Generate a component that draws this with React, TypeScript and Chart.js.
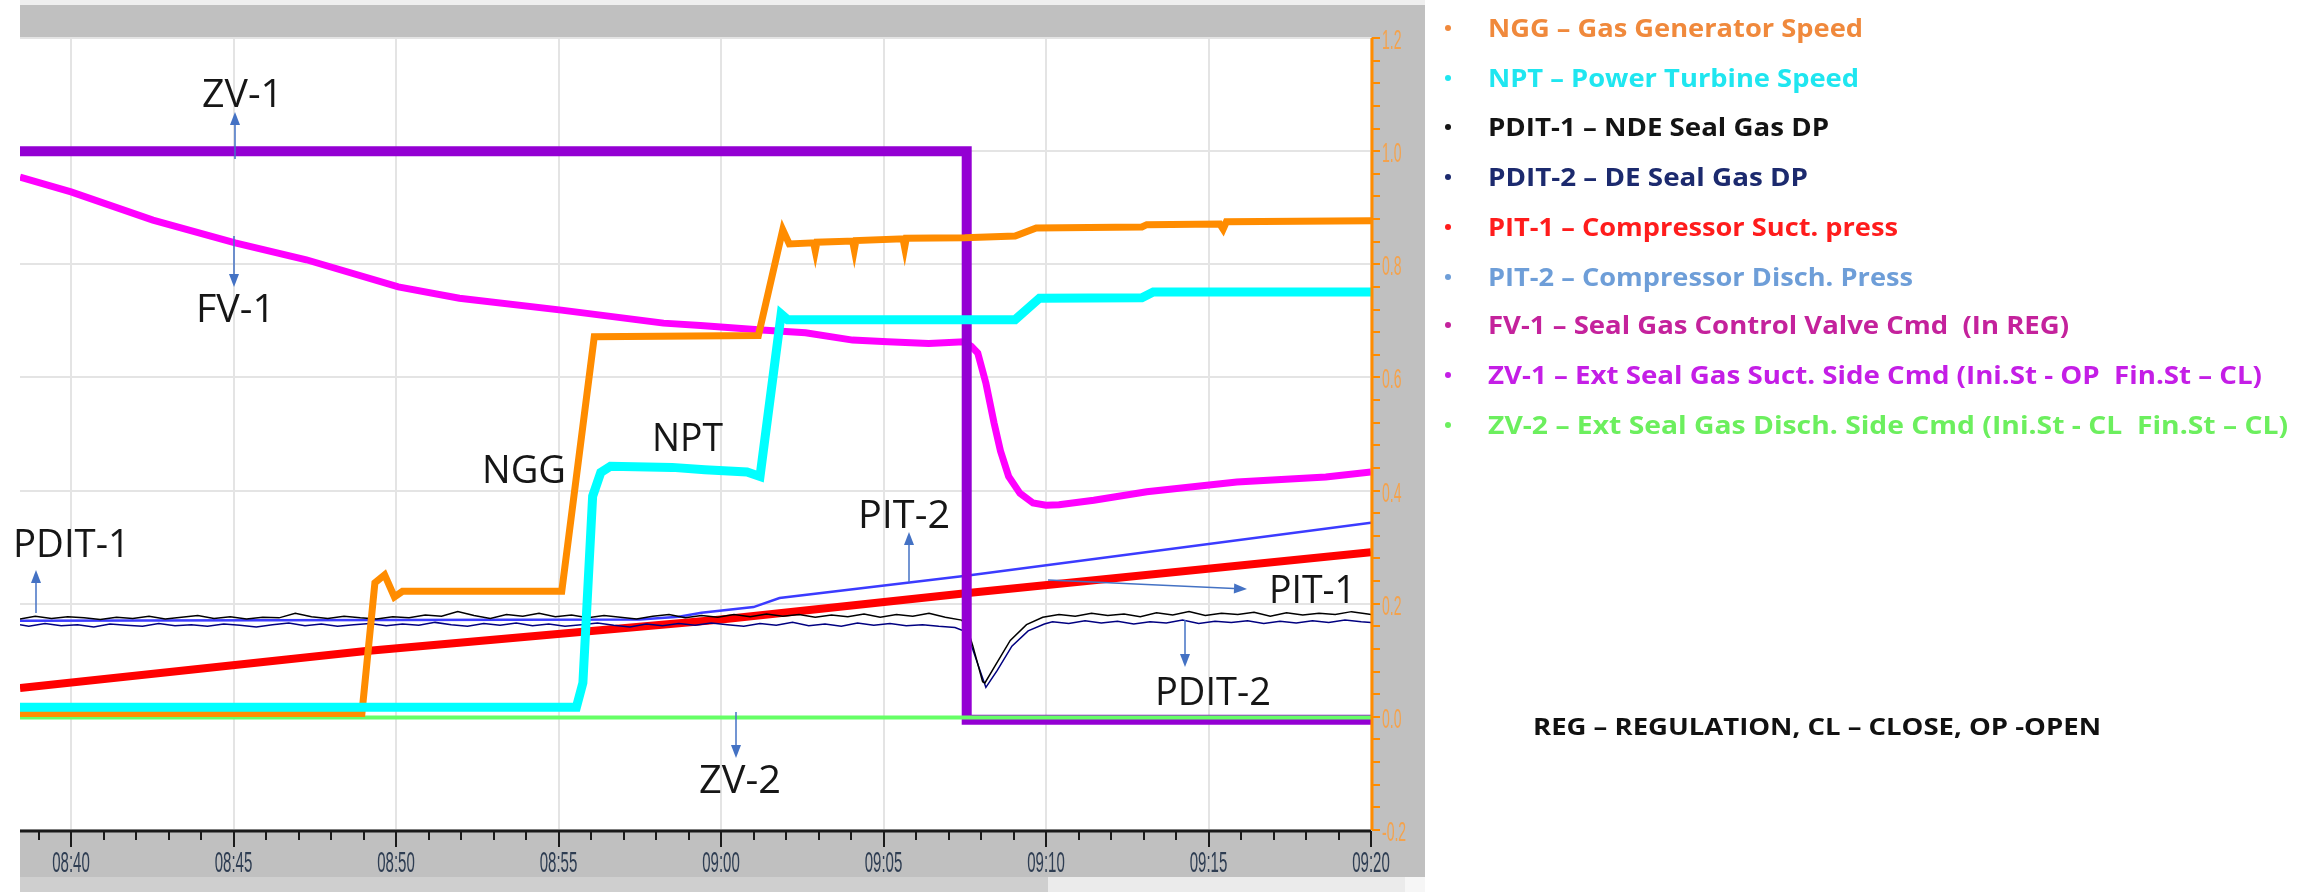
import React, { useEffect, useRef } from 'react';
import { Chart, registerables } from 'chart.js';

Chart.register(...registerables);

const W = 2309;
const H = 892;

// x = minutes after 08:00
const X_MIN = 38.43;
const X_MAX = 80;
const X_TICK_VALUES = [40, 45, 50, 55, 60, 65, 70, 75, 80];
const X_TICK_LABELS = ['08:40', '08:45', '08:50', '08:55', '09:00', '09:05', '09:10', '09:15', '09:20'];
const Y_TICK_VALUES = [-0.2, 0, 0.2, 0.4, 0.6, 0.8, 1.0, 1.2];
const Y_TICK_LABELS = ['-0.2', '0.0', '0.2', '0.4', '0.6', '0.8', '1.0', '1.2'];

const NGG: [number, number][] = [
  [38.43, 0.006], [48.95, 0.006], [49.35, 0.237], [49.65, 0.251], [49.95, 0.212], [50.2, 0.222],
  [55.1, 0.222], [56.1, 0.672], [61.15, 0.674], [61.9, 0.861], [62.1, 0.836], [62.85, 0.838],
  [62.9, 0.824], [62.95, 0.839], [64.05, 0.841], [64.1, 0.826], [64.15, 0.842], [65.6, 0.845],
  [65.65, 0.83], [65.7, 0.846], [67.5, 0.847], [69.05, 0.85], [69.7, 0.864], [72.95, 0.866],
  [73.1, 0.87], [75.35, 0.871], [75.45, 0.862], [75.55, 0.875], [80, 0.877],
];

const NPT: [number, number][] = [
  [38.43, 0.017], [55.55, 0.017], [55.75, 0.06], [56.05, 0.39], [56.3, 0.432], [56.6, 0.443],
  [58.5, 0.441], [59.5, 0.437], [60.8, 0.433], [61.2, 0.425], [61.85, 0.712], [62.05, 0.702],
  [69.05, 0.702], [69.8, 0.74], [72.95, 0.741], [73.3, 0.751], [80, 0.751],
];

const FV1: [number, number][] = [
  [38.43, 0.954], [40.0, 0.928], [42.52, 0.878], [45.05, 0.838], [47.24, 0.808], [50.07, 0.76],
  [51.95, 0.74], [55.09, 0.719], [58.23, 0.696], [59.37, 0.692], [61.25, 0.684], [62.6, 0.679],
  [64.05, 0.666], [65.13, 0.663], [66.39, 0.66], [67.47, 0.663], [67.7, 0.655], [67.9, 0.643],
  [68.15, 0.59], [68.4, 0.52], [68.6, 0.47], [68.85, 0.425], [69.2, 0.395], [69.6, 0.378],
  [70.0, 0.374], [70.4, 0.375], [71.47, 0.383], [73.1, 0.398], [75.87, 0.415], [78.61, 0.424],
  [80, 0.433],
];

const ZV1: [number, number][] = [[38.43, 1.0], [67.56, 1.0], [67.56, -0.005], [80, -0.005]];
const ZV2: [number, number][] = [[38.43, -0.001], [80, -0.001]];

const PIT1: [number, number][] = [[38.43, 0.051], [49.0, 0.116], [60.0, 0.172], [67.6, 0.219], [80, 0.291]];
const PIT2: [number, number][] = [
  [38.43, 0.17], [57.5, 0.172], [58.7, 0.177], [59.4, 0.184], [61.0, 0.194], [61.8, 0.21], [67.6, 0.25], [80, 0.343],
];

const PDIT1: [number, number][] = [
  [38.43, 0.173], [38.9, 0.178], [39.4, 0.174], [39.9, 0.177], [40.4, 0.175], [40.9, 0.172],
  [41.4, 0.176], [41.9, 0.174], [42.4, 0.178], [42.9, 0.173], [43.4, 0.176], [43.9, 0.179],
  [44.4, 0.174], [44.9, 0.177], [45.4, 0.173], [45.9, 0.176], [46.4, 0.175], [46.9, 0.183],
  [47.4, 0.177], [47.9, 0.174], [48.4, 0.178], [48.9, 0.175], [49.4, 0.173], [49.9, 0.177],
  [50.4, 0.175], [50.9, 0.18], [51.4, 0.178], [51.9, 0.186], [52.4, 0.179], [52.9, 0.174],
  [53.4, 0.181], [53.9, 0.178], [54.4, 0.183], [54.9, 0.177], [55.4, 0.18], [55.9, 0.175],
  [56.4, 0.179], [56.9, 0.176], [57.4, 0.173], [57.9, 0.178], [58.4, 0.181], [58.9, 0.175],
  [59.4, 0.179], [59.9, 0.176], [60.4, 0.181], [60.9, 0.177], [61.4, 0.182], [61.9, 0.178],
  [62.4, 0.181], [62.9, 0.176], [63.4, 0.18], [63.9, 0.177], [64.4, 0.182], [64.9, 0.176],
  [65.4, 0.181], [65.9, 0.178], [66.4, 0.183], [66.9, 0.176], [67.4, 0.171],
  [67.56, 0.16], [67.75, 0.125], [68.05, 0.062], [68.12, 0.06], [68.45, 0.092], [68.9, 0.135],
  [69.4, 0.163], [69.9, 0.176],
  [70.4, 0.181], [70.9, 0.178], [71.4, 0.183], [71.9, 0.179], [72.4, 0.182], [72.9, 0.177],
  [73.4, 0.184], [73.9, 0.18], [74.4, 0.186], [74.9, 0.179], [75.4, 0.183], [75.9, 0.181],
  [76.4, 0.185], [76.9, 0.178], [77.4, 0.184], [77.9, 0.18], [78.4, 0.183], [78.9, 0.181],
  [79.4, 0.186], [79.9, 0.182], [80, 0.181],
];

const PDIT2: [number, number][] = [
  [38.43, 0.163], [38.7, 0.16], [39.2, 0.165], [39.7, 0.161], [40.2, 0.163], [40.7, 0.159],
  [41.2, 0.164], [41.7, 0.162], [42.2, 0.16], [42.7, 0.165], [43.2, 0.161], [43.7, 0.163],
  [44.2, 0.16], [44.7, 0.164], [45.2, 0.162], [45.7, 0.159], [46.2, 0.163], [46.7, 0.166],
  [47.2, 0.161], [47.7, 0.164], [48.2, 0.16], [48.7, 0.163], [49.2, 0.165], [49.7, 0.161],
  [50.2, 0.164], [50.7, 0.162], [51.2, 0.167], [51.7, 0.163], [52.2, 0.16], [52.7, 0.165],
  [53.2, 0.162], [53.7, 0.166], [54.2, 0.161], [54.7, 0.164], [55.2, 0.16], [55.7, 0.163],
  [56.2, 0.166], [56.7, 0.162], [57.2, 0.159], [57.7, 0.164], [58.2, 0.161], [58.7, 0.165],
  [59.2, 0.162], [59.7, 0.166], [60.2, 0.163], [60.7, 0.16], [61.2, 0.165], [61.7, 0.162],
  [62.2, 0.167], [62.7, 0.161], [63.2, 0.164], [63.7, 0.16], [64.2, 0.166], [64.7, 0.162],
  [65.2, 0.165], [65.7, 0.161], [66.2, 0.163], [66.7, 0.16], [67.2, 0.158],
  [67.56, 0.15], [67.8, 0.11], [68.15, 0.052], [68.5, 0.082], [68.95, 0.125], [69.45, 0.152],
  [69.95, 0.164],
  [70.2, 0.168], [70.7, 0.165], [71.2, 0.17], [71.7, 0.166], [72.2, 0.169], [72.7, 0.164],
  [73.2, 0.168], [73.7, 0.166], [74.2, 0.171], [74.7, 0.165], [75.2, 0.169], [75.7, 0.167],
  [76.2, 0.17], [76.7, 0.165], [77.2, 0.169], [77.7, 0.166], [78.2, 0.17], [78.7, 0.167],
  [79.2, 0.171], [79.7, 0.168], [80, 0.167],
];

const LEGEND_TEXT = [
  'NGG – Gas Generator Speed',
  'NPT – Power Turbine Speed',
  'PDIT-1 – NDE Seal Gas DP',
  'PDIT-2 – DE Seal Gas DP',
  'PIT-1 – Compressor Suct. press',
  'PIT-2 – Compressor Disch. Press',
  'FV-1 – Seal Gas Control Valve Cmd  (In REG)',
  'ZV-1 – Ext Seal Gas Suct. Side Cmd (Ini.St - OP  Fin.St – CL)',
  'ZV-2 – Ext Seal Gas Disch. Side Cmd (Ini.St - CL  Fin.St – CL)',
];
const LEGEND_COLORS = ['#f0893c', '#1fe6f0', '#141414', '#1c2a6e', '#ff1c1c', '#6e9ed8', '#c4229c', '#c41ee6', '#6cef5e'];
const NOTE_TEXT = 'REG – REGULATION, CL – CLOSE, OP -OPEN';

const ANNOT_TEXT = ['ZV-1', 'FV-1', 'NGG', 'NPT', 'PDIT-1', 'PIT-2', 'PIT-1', 'PDIT-2', 'ZV-2'];

// layout (pixels)
const LEGEND_LAYOUT = { bulletX: 1448, textX: 1488, ys: [28, 78, 127, 177, 227, 277, 325, 375, 425], ends: [1863, 1859, 1829, 1808, 1898, 1913, 2069, 2262, 2288] };
const NOTE_LAYOUT = { x: 1533, base: 735, w: 568 };
const ANNOT_LAYOUT = [
  { x: 202, base: 107, w: 81 },
  { x: 196, base: 322, w: 79 },
  { x: 482, base: 483, w: 84 },
  { x: 652, base: 451, w: 71 },
  { x: 13, base: 557, w: 117 },
  { x: 858, base: 528, w: 92 },
  { x: 1269, base: 603, w: 87 },
  { x: 1155, base: 705, w: 116 },
  { x: 699, base: 793, w: 82 },
];
const ARROWS = [
  [235, 159, 235, 112],
  [234, 236, 234, 287],
  [36, 613, 36, 570],
  [909, 582, 909, 532],
  [1048, 580, 1247, 589],
  [1185, 620, 1185, 667],
  [736, 712, 736, 758],
];

function fitText(ctx: CanvasRenderingContext2D, text: string, x: number, y: number, font: string, color: string, width: number) {
  ctx.save();
  ctx.font = font;
  const m = ctx.measureText(text).width;
  const s = width / m;
  ctx.translate(x, y);
  ctx.scale(s, 1);
  ctx.fillStyle = color;
  ctx.textAlign = 'left';
  ctx.textBaseline = 'alphabetic';
  ctx.fillText(text, 0, 0);
  ctx.restore();
}

function squeezeText(ctx: CanvasRenderingContext2D, text: string, x: number, y: number, font: string, color: string, sx: number, align: CanvasTextAlign) {
  ctx.save();
  ctx.font = font;
  ctx.translate(x, y);
  ctx.scale(sx, 1);
  ctx.fillStyle = color;
  ctx.textAlign = align;
  ctx.textBaseline = 'alphabetic';
  ctx.fillText(text, 0, 0);
  ctx.restore();
}

function arrow(ctx: CanvasRenderingContext2D, x1: number, y1: number, x2: number, y2: number) {
  const ang = Math.atan2(y2 - y1, x2 - x1);
  const L = 13;
  const hw = 5;
  const bx = x2 - L * Math.cos(ang);
  const by = y2 - L * Math.sin(ang);
  ctx.save();
  ctx.strokeStyle = '#4472c4';
  ctx.fillStyle = '#4472c4';
  ctx.lineWidth = 1.5;
  ctx.beginPath();
  ctx.moveTo(x1, y1);
  ctx.lineTo(bx, by);
  ctx.stroke();
  ctx.beginPath();
  ctx.moveTo(x2, y2);
  ctx.lineTo(bx + hw * Math.sin(ang), by - hw * Math.cos(ang));
  ctx.lineTo(bx - hw * Math.sin(ang), by + hw * Math.cos(ang));
  ctx.closePath();
  ctx.fill();
  ctx.restore();
}

const decor = {
  id: 'decor',
  beforeDraw(chart: any) {
    const { ctx, chartArea: a } = chart;
    const frameR = a.right + 54;
    ctx.save();
    ctx.fillStyle = '#ffffff';
    ctx.fillRect(0, 0, W, H);
    ctx.fillStyle = '#efefef';
    ctx.fillRect(a.left, 0, frameR - a.left, 5);
    ctx.fillStyle = '#c0c0c0';
    ctx.fillRect(a.left, 5, frameR - a.left, 872);
    ctx.fillStyle = '#cfcfcf';
    ctx.fillRect(a.left, 877, 1028, 15);
    ctx.fillStyle = '#ebebeb';
    ctx.fillRect(1048, 877, frameR - 20 - 1048, 15);
    ctx.fillStyle = '#f6f6f6';
    ctx.fillRect(frameR - 20, 877, 20, 15);
    ctx.fillStyle = '#ffffff';
    ctx.fillRect(a.left, a.top, a.right - a.left, a.bottom - a.top);
    ctx.restore();
  },
  afterDraw(chart: any) {
    const { ctx, chartArea: a } = chart;
    const xs = chart.scales.x;
    const ys = chart.scales.y;
    ctx.save();
    // x axis line + ticks
    ctx.strokeStyle = '#1a1a1a';
    ctx.lineWidth = 3;
    ctx.beginPath();
    ctx.moveTo(a.left, a.bottom + 1);
    ctx.lineTo(a.right, a.bottom + 1);
    ctx.stroke();
    ctx.lineWidth = 2;
    for (let m = Math.ceil(X_MIN); m <= X_MAX; m++) {
      const px = Math.round(xs.getPixelForValue(m));
      const len = m % 5 === 0 ? 16 : 9;
      ctx.beginPath();
      ctx.moveTo(px, a.bottom + 1);
      ctx.lineTo(px, a.bottom + 1 + len);
      ctx.stroke();
    }
    X_TICK_VALUES.forEach((v, i) => {
      const px = xs.getPixelForValue(v);
      squeezeText(ctx, X_TICK_LABELS[i], px, a.bottom + 42, '30px "Liberation Sans"', '#2e3d52', 0.5, 'center');
    });
    // right axis
    ctx.strokeStyle = '#ff8c00';
    ctx.lineWidth = 3;
    ctx.beginPath();
    ctx.moveTo(a.right + 1, a.top);
    ctx.lineTo(a.right + 1, a.bottom);
    ctx.stroke();
    ctx.lineWidth = 2;
    for (let k = 0; k <= 35; k++) {
      const v = -0.2 + k * 0.04;
      const py = Math.round(ys.getPixelForValue(v));
      ctx.beginPath();
      ctx.moveTo(a.right + 1, py);
      ctx.lineTo(a.right + 9, py);
      ctx.stroke();
    }
    Y_TICK_VALUES.forEach((v, i) => {
      const py = ys.getPixelForValue(v);
      squeezeText(ctx, Y_TICK_LABELS[i], a.right + 11, py + 11, '28px "Liberation Sans"', '#f4a24c', 0.5, 'left');
    });
    // annotations
    ARROWS.forEach((r) => arrow(ctx, r[0], r[1], r[2], r[3]));
    ANNOT_TEXT.forEach((t, i) => {
      const L = ANNOT_LAYOUT[i];
      fitText(ctx, t, L.x, L.base, '39px "Open Sans"', '#161616', L.w);
    });
    // legend
    LEGEND_TEXT.forEach((t, i) => {
      const y = LEGEND_LAYOUT.ys[i];
      ctx.fillStyle = LEGEND_COLORS[i];
      ctx.beginPath();
      ctx.arc(LEGEND_LAYOUT.bulletX, y, 3, 0, Math.PI * 2);
      ctx.fill();
      fitText(ctx, t, LEGEND_LAYOUT.textX, y + 9, 'bold 25px "Open Sans"', LEGEND_COLORS[i], LEGEND_LAYOUT.ends[i] - LEGEND_LAYOUT.textX);
    });
    fitText(ctx, NOTE_TEXT, NOTE_LAYOUT.x, NOTE_LAYOUT.base, 'bold 24px "Open Sans"', '#111111', NOTE_LAYOUT.w);
    ctx.restore();
  },
};

const toXY = (arr: [number, number][]) => arr.map(([x, y]) => ({ x, y }));

export default function App() {
  const ref = useRef<HTMLCanvasElement>(null);
  useEffect(() => {
    if (!ref.current) return;
    const line = (label: string, data: [number, number][], color: string, width: number, order: number) => ({
      label,
      data: toXY(data),
      borderColor: color,
      backgroundColor: color,
      borderWidth: width,
      order,
      pointRadius: 0,
      tension: 0,
      fill: false,
    });
    const chart = new Chart(ref.current, {
      type: 'line',
      data: {
        datasets: [
          line('NPT – Power Turbine Speed', NPT, '#00ffff', 9, 0),
          line('NGG – Gas Generator Speed', NGG, '#ff8c00', 7, 1),
          line('ZV-2', ZV2, '#66ff66', 4, 2),
          line('ZV-1', ZV1, '#9400d3', 10, 3),
          line('FV-1', FV1, '#ff00ff', 7, 4),
          line('PDIT-1', PDIT1, '#000000', 1.5, 5),
          line('PDIT-2', PDIT2, '#000080', 1.5, 6),
          line('PIT-2', PIT2, '#3b3bff', 2.5, 7),
          line('PIT-1', PIT1, '#ff0000', 8, 8),
        ] as any,
      },
      options: {
        animation: false,
        responsive: false,
        devicePixelRatio: 1,
        layout: { padding: { left: 20, top: 38, right: 884, bottom: 15 } },
        plugins: { legend: { display: false }, tooltip: { enabled: false } },
        scales: {
          x: {
            type: 'linear',
            min: X_MIN,
            max: X_MAX,
            afterFit: (s: any) => { s.height = 47; },
            grid: { color: '#e4e4e4', lineWidth: 2, drawTicks: false },
            border: { display: false },
            ticks: { display: false, stepSize: 5, includeBounds: false },
          },
          y: {
            type: 'linear',
            position: 'right',
            min: -0.2,
            max: 1.2,
            afterFit: (s: any) => { s.width = 54; },
            grid: { color: '#e4e4e4', lineWidth: 2, drawTicks: false },
            border: { display: false },
            ticks: { display: false, stepSize: 0.2 },
          },
        },
      } as any,
      plugins: [decor],
    });
    return () => chart.destroy();
  }, []);
  return (
    <div style={{ position: 'absolute', left: 0, top: 0, width: W, height: H, background: '#ffffff' }}>
      <canvas ref={ref} width={W} height={H} style={{ display: 'block', width: W, height: H }} />
    </div>
  );
}
